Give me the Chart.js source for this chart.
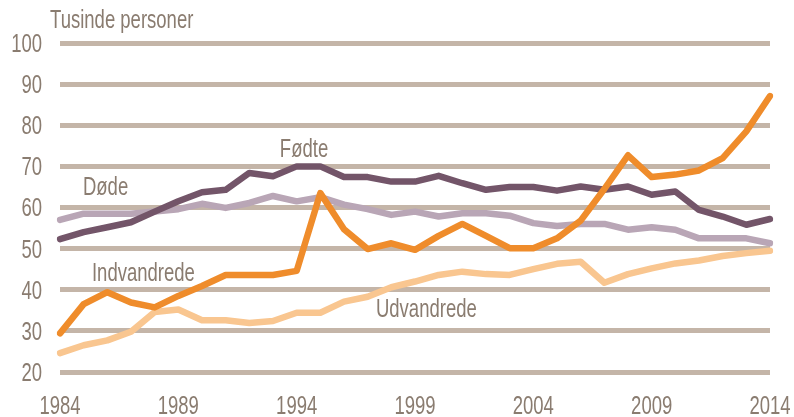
<!DOCTYPE html>
<html>
<head>
<meta charset="utf-8">
<script src="https://cdn.jsdelivr.net/npm/chart.js@4"></script>
<style>
  body { margin: 0; background: #fff; }
  #wrap { width: 794px; height: 417px; }
</style>
</head>
<body>
<div id="wrap"><canvas id="myChart" width="794" height="417"></canvas></div>
<script>
const years = [];
for (let y = 1984; y <= 2014; y++) years.push(String(y));

const fodte = [52.3, 54.0, 55.2, 56.4, 59.0, 61.5, 63.7, 64.3, 68.4, 67.6, 70.0, 70.0, 67.4, 67.4, 66.3,
	66.3, 67.7, 65.9, 64.3, 65.0, 65.0, 64.1, 65.1, 64.3, 65.1, 63.1, 63.9, 59.4, 57.8, 55.8, 57.2];
const dode = [57.0, 58.5, 58.5, 58.5, 59.0, 59.6, 60.9, 59.9, 61.1, 62.8, 61.5, 62.5, 60.7, 59.6, 58.2,
	59.0, 57.8, 58.6, 58.6, 58.0, 56.2, 55.5, 56.0, 56.0, 54.6, 55.2, 54.6, 52.5, 52.5, 52.5, 51.3];
const indvandrede = [29.4, 36.5, 39.4, 36.9, 35.7, 38.5, 40.9, 43.6, 43.6, 43.6, 44.6, 63.5, 54.7, 49.9, 51.3,
	49.7, 53.1, 56.0, 53.1, 50.1, 50.1, 52.5, 56.8, 64.5, 72.7, 67.4, 68.0, 69.0, 72.0, 78.5, 87.1];
const udvandrede = [24.6, 26.5, 27.7, 29.8, 34.6, 35.2, 32.6, 32.6, 31.9, 32.4, 34.4, 34.4, 37.1, 38.3, 40.6,
	42.0, 43.6, 44.4, 43.8, 43.6, 45.0, 46.3, 46.8, 41.7, 43.8, 45.2, 46.4, 47.1, 48.2, 48.9, 49.5];

const yTicks = [20, 30, 40, 50, 60, 70, 80, 90, 100];
const xTickYears = ["1984", "1989", "1994", "1999", "2004", "2009", "2014"];

// text labels placed in data coordinates: [text, x index, y value]
const seriesLabels = [
	["Tusinde personer", -0.42, 105.3],
	["Fødte", 9.29, 73.9],
	["Døde", 0.97, 64.6],
	["Indvandrede", 1.35, 43.8],
	["Udvandrede", 13.35, 35.0],
];

const textColor = "#8a7c70";
const gridColor = "#c4b5a8";
const fontCss = "25px 'Liberation Sans', Arial, sans-serif";
const squeeze = 0.74; // narrow look

function narrowText(ctx, text, x, y, align) {
	ctx.save();
	ctx.translate(x, y);
	ctx.scale(squeeze, 1);
	ctx.textAlign = align;
	ctx.fillText(text, 0, 0);
	ctx.restore();
}

const textPlugin = {
	id: "narrowText",
	afterDraw(chart) {
		const ctx = chart.ctx;
		const xs = chart.scales.x;
		const ys = chart.scales.y;
		const area = chart.chartArea;
		ctx.save();
		ctx.fillStyle = textColor;
		ctx.font = fontCss;
		ctx.textBaseline = "middle";
		yTicks.forEach((v) => {
			narrowText(ctx, String(v), area.left - 18, ys.getPixelForValue(v) + 2, "right");
		});
		xTickYears.forEach((yr) => {
			narrowText(ctx, yr, xs.getPixelForValue(years.indexOf(yr)), area.bottom + 35, "center");
		});
		seriesLabels.forEach(([t, xi, yv]) => {
			narrowText(ctx, t, xs.getPixelForValue(xi), ys.getPixelForValue(yv), "left");
		});
		ctx.restore();
	},
};

const line = (label, data, color, order) => ({
	label: label,
	data: data,
	borderColor: color,
	backgroundColor: color,
	borderWidth: 6.5,
	pointRadius: 0,
	tension: 0,
	fill: false,
	order: order,
	borderJoinStyle: "round",
	borderCapStyle: "round",
});

new Chart(document.getElementById("myChart"), {
	type: "line",
	data: {
		labels: years,
		datasets: [
			line("Indvandrede", indvandrede, "#ef8c2b", 0),
			line("Udvandrede", udvandrede, "#f9c690", 1),
			line("Fødte", fodte, "#735569", 2),
			line("Døde", dode, "#b9a6b6", 3),
		],
	},
	options: {
		responsive: false,
		animation: false,
		layout: { padding: { top: 43, right: 24, left: 0, bottom: 0 } },
		plugins: {
			legend: { display: false },
			tooltip: { enabled: false },
		},
		scales: {
			x: {
				offset: false,
				grid: { display: false, drawTicks: false },
				border: { display: false },
				ticks: { display: false },
				afterFit(scale) { scale.height = 45; },
			},
			y: {
				min: 20,
				max: 100,
				grid: { color: gridColor, lineWidth: 5, drawTicks: false },
				border: { display: false },
				ticks: { display: false, stepSize: 10 },
				afterFit(scale) { scale.width = 60; },
			},
		},
	},
	plugins: [textPlugin],
});
</script>
</body>
</html>
